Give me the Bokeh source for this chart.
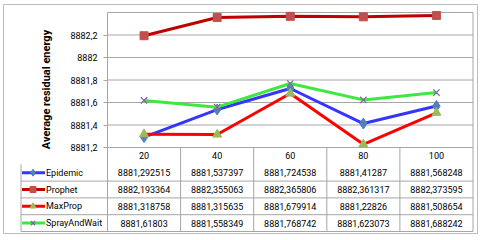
import math
from bokeh.plotting import figure
from bokeh.models import Range1d, FixedTicker, CustomJSTickFormatter
from bokeh.core.properties import value
from bokeh.embed import file_html
from bokeh.resources import INLINE

# ---------------- data ----------------
categories = [20, 40, 60, 80, 100]
series_names = ["Epidemic", "Prophet", "MaxProp", "SprayAndWait"]
epidemic = [8881.292515, 8881.537397, 8881.724538, 8881.41287, 8881.568248]
prophet = [8882.193364, 8882.355063, 8882.365806, 8882.361317, 8882.373595]
maxprop = [8881.318758, 8881.315635, 8881.679914, 8881.22826, 8881.508654]
spray_and_wait = [8881.61803, 8881.558349, 8881.768742, 8881.623073, 8881.688242]
y_ticks = [8881.2, 8881.4, 8881.6, 8881.8, 8882.0, 8882.2]
y_top = 8882.4
y_title = "Average residual energy"

series_values = [epidemic, prophet, maxprop, spray_and_wait]

# ---------------- styles ----------------
line_colors = ["#3535ff", "#c00000", "#ff0000", "#3ee83e"]
marker_colors = ["#4f81bd", "#c0504d", "#9bbb59", "#8064a2"]
markers = ["diamond", "square", "triangle", "x"]
marker_sizes = [11, 8, 9, 9]
key_marker_sizes = [7, 6, 6, 6]
GRID = "#a6a6a6"
BORDER = "#bcbcbc"
FONT = "Roboto"
FS = "9px"


def fmt(v):
    s = f"{v:.6f}".rstrip("0").rstrip(".")
    return s.replace(".", ",")


# ---------------- layout (page pixels) ----------------
W, H = 480, 240
FR_L, FR_R, FR_T, FR_B = 3, 477, 4, 233          # chart-area border
PLOT_L, PLOT_R = 107, 472.5
PLOT_T, PLOT_B = 12, 147
TABLE_L, TABLE_B = 20.5, 231

step = categories[1] - categories[0]
xs = categories[0] - step / 2
xe = categories[-1] + step / 2
ppx = (PLOT_R - PLOT_L) / (xe - xs)
ppy = (PLOT_B - PLOT_T) / (y_top - y_ticks[0])
n = len(series_names)
ROW_H = (TABLE_B - PLOT_B) / (n + 1)


def dx(page_x):
    return xs + (page_x - PLOT_L) / ppx


def dy(page_y):
    return y_top - (page_y - PLOT_T) / ppy


def ty(page_y):
    return (TABLE_B - page_y) / ROW_H


p = figure(width=W, height=H, x_range=Range1d(dx(FR_L), dx(FR_R)),
           y_range=Range1d(dy(FR_B), dy(FR_T)),
           output_backend="svg", toolbar_location=None,
           x_axis_location=None, y_axis_location="left",
           min_border_left=FR_L, min_border_right=W - FR_R,
           min_border_top=FR_T, min_border_bottom=H - FR_B)
p.extra_y_ranges = {"table": Range1d(ty(FR_B), ty(FR_T))}
p.grid.visible = False
p.outline_line_color = BORDER
p.background_fill_color = "white"
p.border_fill_color = "white"

# y axis drawn at the plot-area's left edge
ax = p.yaxis[0]
ax.fixed_location = xs
ax.bounds = (y_ticks[0], y_top)
ax.ticker = FixedTicker(ticks=y_ticks)
ax.formatter = CustomJSTickFormatter(
    code="return tick.toFixed(1).replace(/\\.0$/, '').replace('.', ',');")
ax.axis_line_color = GRID
ax.major_tick_line_color = GRID
ax.major_tick_out = 4
ax.major_tick_in = 0
ax.minor_tick_line_color = None
ax.major_label_standoff = 6
ax.major_label_text_font = FONT
ax.major_label_text_font_size = FS
ax.major_label_text_color = "#000000"

# horizontal gridlines + top/right border of plot area
glines = y_ticks + [y_top]
p.segment(x0=[xs] * len(glines), y0=glines, x1=[xe] * len(glines), y1=glines,
          line_color=GRID, line_width=1)
p.segment(x0=[xe], y0=[y_ticks[0]], x1=[xe], y1=[y_top], line_color=GRID, line_width=1)

# y title
p.text(x=[dx(45.5)], y=[dy(89)], text=[y_title], angle=math.pi / 2,
       text_align="center", text_baseline="middle", text_font=value(FONT),
       text_font_size="11px", text_font_style="bold", text_color="#000000")

# series
for vals, lc, mc, mk, ms in zip(series_values, line_colors, marker_colors, markers, marker_sizes):
    p.line(categories, vals, line_color=lc, line_width=3)
    if mk == "x":
        p.scatter(categories, vals, marker=mk, size=ms, line_color=mc, line_width=1.2)
    else:
        p.scatter(categories, vals, marker=mk, size=ms, fill_color=mc, line_color=mc)

# ---------------- data table ----------------
x_tab = dx(TABLE_L)
hx0, hx1, hy = [], [], []
for r in range(n):
    hx0.append(x_tab)
    hx1.append(xe)
    hy.append(r)
p.segment(x0=hx0, y0=hy, x1=hx1, y1=hy, line_color=GRID, line_width=1, y_range_name="table")
bounds = [xs + k * step for k in range(len(categories) + 1)]
p.segment(x0=bounds, y0=[0] * len(bounds), x1=bounds, y1=[n + 1] * len(bounds),
          line_color=GRID, line_width=1, y_range_name="table")
p.segment(x0=[x_tab], y0=[0], x1=[x_tab], y1=[n], line_color=GRID, line_width=1,
          y_range_name="table")

p.text(x=categories, y=[n + 0.5] * len(categories), text=[str(c) for c in categories],
       text_align="center", text_baseline="middle", text_font=value(FONT),
       text_font_size=FS, text_color="#000000", y_range_name="table")

for i, (name, vals, lc, mc, mk, ms) in enumerate(zip(series_names, series_values, line_colors,
                                                      marker_colors, markers, key_marker_sizes)):
    yc = n - i - 0.5
    p.text(x=categories, y=[yc] * len(categories), text=[fmt(v) for v in vals],
           text_align="center", text_baseline="middle", text_font=value(FONT),
           text_font_size=FS, text_color="#000000", y_range_name="table")
    p.line([dx(21.5), dx(44.5)], [yc, yc], line_color=lc, line_width=3, y_range_name="table")
    if mk == "x":
        p.scatter([dx(32.5)], [yc], marker=mk, size=ms, line_color=mc, line_width=1.2,
                  y_range_name="table")
    else:
        p.scatter([dx(32.5)], [yc], marker=mk, size=ms, fill_color=mc, line_color=mc,
                  y_range_name="table")
    p.text(x=[dx(45.5)], y=[yc], text=[name], text_align="left", text_baseline="middle",
           text_font=value(FONT), text_font_size=FS, text_color="#000000",
           y_range_name="table")

open("out.html", "w").write(file_html(p, INLINE))
